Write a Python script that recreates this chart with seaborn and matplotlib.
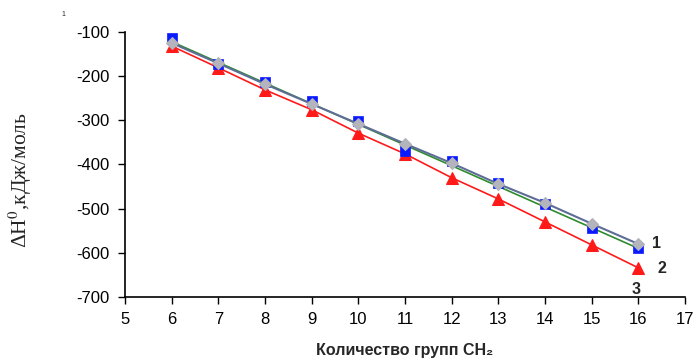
import numpy as np
import pandas as pd
import matplotlib
matplotlib.use("Agg")
import matplotlib.pyplot as plt
import seaborn as sns

# Data
n_ch2 = [6, 7, 8, 9, 10, 11, 12, 13, 14, 15, 16]
series1_gray = [-125, -171, -218, -263, -308, -353, -397, -444, -487, -534, -580]
series_blue = [-114, -172, -213, -256, -301, -369, -393, -442, -489, -543, -589]
series3_red = [-132, -181, -231, -276, -329, -376, -430, -478, -530, -582, -634]
green_x = [6, 16]
green_y = [-122, -590]
x_ticks = [5, 6, 7, 8, 9, 10, 11, 12, 13, 14, 15, 16, 17]
y_ticks = [-700, -600, -500, -400, -300, -200, -100]
end_labels = ["1", "2", "3"]

sns.set_theme(style="ticks")
plt.rcParams['font.family'] = ['Liberation Sans', 'DejaVu Sans']
plt.rcParams['mathtext.fontset'] = 'stix'
plt.rcParams['axes.unicode_minus'] = False

fig = plt.figure(figsize=(7.0, 3.59), dpi=100)
ax = fig.add_axes([0.1786, 0.1727, 0.80, 0.7382])

# green trend line
sns.lineplot(x=green_x, y=green_y, ax=ax, color="#2e8b2e", lw=1.2, zorder=2)
# red series
sns.lineplot(x=n_ch2, y=series3_red, ax=ax, color="#ff1a1a", lw=1.2,
             marker="^", markersize=8, markeredgecolor="#ff1a1a",
             markerfacecolor="#ff1a1a", zorder=3)
# blue squares
sns.scatterplot(x=n_ch2, y=series_blue, ax=ax, color="#0a1aff", marker="s",
                s=55, edgecolor="#0a1aff", linewidth=0.5, zorder=4)
# gray diamonds with slate line
sns.lineplot(x=n_ch2, y=series1_gray, ax=ax, color="#5e6d96", lw=1.5,
             marker="D", markersize=6.5, markeredgecolor="#b0b0b8",
             markerfacecolor="#b4b4bc", zorder=5)

ax.set_xlim(5, 17)
ax.set_ylim(-700, -100)
ax.set_xticks(x_ticks)
ax.set_yticks(y_ticks)
ax.tick_params(axis='both', direction='out', length=5, width=1, color='black',
               labelsize=12, labelcolor='black', pad=6)
for s in ['top', 'right']:
    ax.spines[s].set_visible(False)
for s in ['left', 'bottom']:
    ax.spines[s].set_color('black')
    ax.spines[s].set_linewidth(1.2)

ax.set_xlabel("Количество групп CH₂", fontsize=11.5, fontweight='bold')
ax.xaxis.set_label_coords(0.5, -0.172)
ax.set_ylabel(r"ΔH$^{0}$,кДж/моль", fontsize=15.5, family=['Liberation Serif', 'DejaVu Serif'])
ax.yaxis.set_label_coords(-0.162, 0.44)

# end labels
ax.text(16.3, -580, end_labels[0], fontsize=11.5, fontweight='bold', ha='left', va='center')
ax.text(16.4, -636, end_labels[1], fontsize=11.5, fontweight='bold', ha='left', va='center')
ax.text(15.95, -683, end_labels[2], fontsize=11.5, fontweight='bold', ha='center', va='center')

fig.text(63 / 700, 1 - 14 / 359, "1", fontsize=5, ha='center', va='center')

fig.savefig("out.png", dpi=100)
